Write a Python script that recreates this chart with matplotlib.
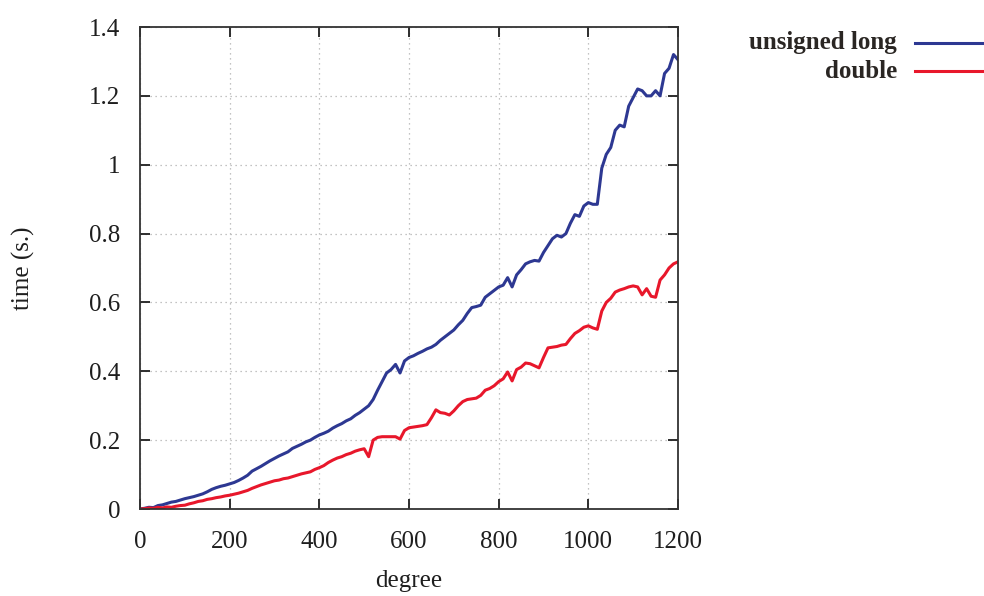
import matplotlib
matplotlib.use("Agg")
import matplotlib.pyplot as plt
from matplotlib.lines import Line2D
from matplotlib.ticker import FuncFormatter

degree = list(range(0, 1201, 10))

unsigned_long = [
    0.000, 0.002, 0.005, 0.004, 0.010, 0.012, 0.016, 0.020, 0.022, 0.026,
    0.030, 0.033, 0.036, 0.040, 0.044, 0.050, 0.057, 0.062, 0.066, 0.069,
    0.073, 0.077, 0.083, 0.090, 0.098, 0.110, 0.117, 0.124, 0.132, 0.140,
    0.147, 0.154, 0.160, 0.166, 0.176, 0.182, 0.188, 0.195, 0.200, 0.208,
    0.215, 0.220, 0.226, 0.235, 0.242, 0.248, 0.256, 0.262, 0.272, 0.280,
    0.290, 0.300, 0.318, 0.345, 0.370, 0.395, 0.405, 0.420, 0.395, 0.430,
    0.440, 0.445, 0.452, 0.458, 0.465, 0.470, 0.478, 0.490, 0.500, 0.510,
    0.520, 0.535, 0.548, 0.568, 0.585, 0.588, 0.592, 0.615, 0.625, 0.635,
    0.645, 0.650, 0.672, 0.645, 0.680, 0.695, 0.712, 0.718, 0.722, 0.720,
    0.745, 0.765, 0.785, 0.795, 0.790, 0.800, 0.830, 0.855, 0.850, 0.880,
    0.890, 0.885, 0.885, 0.990, 1.030, 1.050, 1.100, 1.115, 1.110, 1.170,
    1.195, 1.220, 1.215, 1.200, 1.200, 1.215, 1.200, 1.265, 1.280, 1.320,
    1.305,
]

double = [
    0.000, 0.001, 0.003, 0.002, 0.005, 0.003, 0.006, 0.005, 0.008, 0.010,
    0.011, 0.015, 0.018, 0.022, 0.024, 0.028, 0.030, 0.033, 0.035, 0.038,
    0.040, 0.043, 0.046, 0.050, 0.054, 0.060, 0.065, 0.070, 0.074, 0.078,
    0.082, 0.084, 0.088, 0.090, 0.094, 0.098, 0.102, 0.105, 0.108, 0.115,
    0.120, 0.126, 0.135, 0.142, 0.148, 0.152, 0.158, 0.162, 0.168, 0.172,
    0.175, 0.152, 0.200, 0.208, 0.210, 0.210, 0.210, 0.210, 0.203, 0.228,
    0.236, 0.238, 0.240, 0.242, 0.245, 0.265, 0.288, 0.280, 0.278, 0.273,
    0.285, 0.300, 0.312, 0.318, 0.320, 0.322, 0.330, 0.345, 0.350, 0.358,
    0.370, 0.378, 0.398, 0.372, 0.405, 0.412, 0.424, 0.422, 0.416, 0.410,
    0.440, 0.468, 0.470, 0.472, 0.476, 0.478, 0.495, 0.510, 0.518, 0.528,
    0.532, 0.526, 0.522, 0.575, 0.600, 0.612, 0.630, 0.636, 0.640, 0.645,
    0.648, 0.645, 0.622, 0.640, 0.618, 0.615, 0.665, 0.680, 0.700, 0.712,
    0.718,
]

series_labels = ["unsigned long", "double"]
x_ticks = [0, 200, 400, 600, 800, 1000, 1200]
y_ticks = [0, 0.2, 0.4, 0.6, 0.8, 1.0, 1.2, 1.4]

plt.rcParams['font.family'] = ['Liberation Serif', 'DejaVu Serif']

fig = plt.figure(figsize=(9.84, 5.96), dpi=100)
ax = fig.add_axes([140/984, 87/596, 538/984, 482/596])

blue = '#2d3892'
red = '#e8172b'
ax.plot(degree, unsigned_long, color=blue, lw=2.2, solid_joinstyle='round')
ax.plot(degree, double, color=red, lw=2.2, solid_joinstyle='round')

ax.set_xlim(0, 1200)
ax.set_ylim(0, 1.4)
ax.set_xticks(x_ticks)
ax.set_yticks(y_ticks)
ax.yaxis.set_major_formatter(FuncFormatter(lambda v, p: f"{v:g}"))
ax.tick_params(direction='in', length=7, width=1.3, top=True, right=True,
               labelsize=18, colors='#1e1e1e')
ax.tick_params(axis='x', pad=16)
ax.tick_params(axis='y', pad=14)
ax.grid(True, linestyle=(0, (1, 3)), color='#b0b0b0', lw=0.9)
for s in ax.spines.values():
    s.set_color('#333333')
    s.set_linewidth(1.3)

ax.set_xlabel('degree', fontsize=18, color='#1e1e1e')
ax.set_ylabel('time (s.)', fontsize=18, color='#1e1e1e')
ax.xaxis.set_label_coords(0.5, (596 - 596 + 509 - 592) / 482 * 1.0)
ax.xaxis.label.set_va('bottom')
ax.yaxis.set_label_coords((35 - 140) / 538, 0.5)

# legend (gnuplot style: right-aligned labels, line samples to the right)
for i, (lab, col) in enumerate(zip(series_labels, [blue, red])):
    yy = (596 - 43 - 28 * i) / 596
    fig.text(897/984, yy, lab, ha='right', va='center', fontsize=18,
             fontweight='bold', color='#2a2623')
    fig.add_artist(Line2D([915/984, 983/984], [yy, yy], color=col, lw=2.2,
                          transform=fig.transFigure))

fig.savefig('out.png', dpi=100)
